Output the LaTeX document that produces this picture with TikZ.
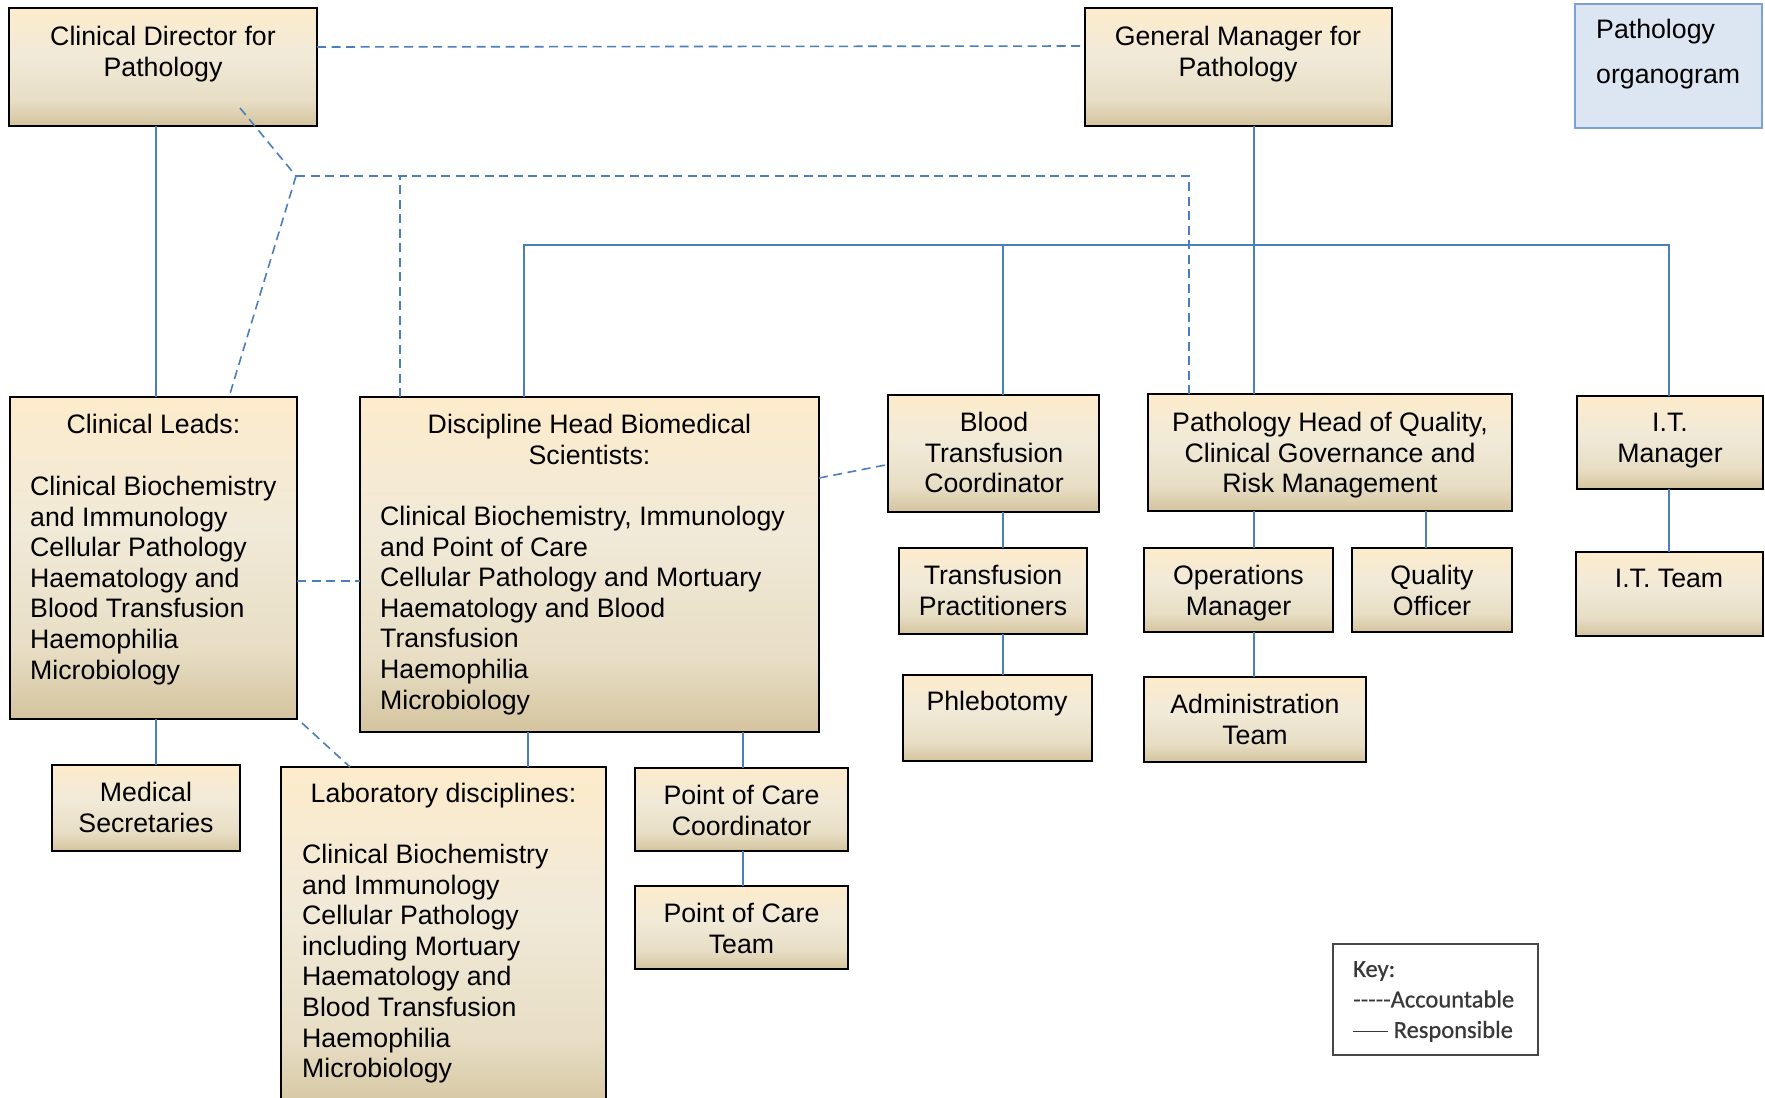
\documentclass[tikz,border=0pt]{standalone}
\usepackage{fontspec}
\setmainfont{Liberation Sans}
\newfontfamily\keyfont[FakeBold=0.6]{Carlito}
\usetikzlibrary{calc}

\definecolor{boxtop}{RGB}{253,235,203}
\definecolor{boxmid}{RGB}{241,234,216}
\definecolor{boxlow}{RGB}{232,222,197}
\definecolor{boxbot}{RGB}{212,196,158}
\definecolor{linkblue}{RGB}{74,126,189}
\definecolor{titlefill}{RGB}{220,230,242}
\definecolor{titledraw}{RGB}{125,160,215}

\pgfdeclareverticalshading{boxgrad}{100bp}{%
  color(0bp)=(boxbot); color(25bp)=(boxbot); color(36bp)=(boxlow);
  color(55bp)=(boxmid); color(75bp)=(boxtop); color(100bp)=(boxtop)}

\tikzset{
  obox/.style={draw=black, line width=1.6pt, shading=boxgrad,
    inner sep=0pt, outer sep=0pt},
  lbl/.style={inner sep=0pt, font=\fontsize{26.7}{30.6}\selectfont,
    align=center, anchor=north},
  lbll/.style={lbl, align=left, anchor=north west},
  acc/.style={draw=linkblue, line width=1.6pt, dash pattern=on 9pt off 5.5pt},
  rsp/.style={draw=linkblue, line width=1.6pt},
}

% \orgbox{name}{left}{top}{right}{bottom}, in pixel units
\newcommand{\orgbox}[5]{%
  \node[obox, minimum width={(#4-#2)*1pt}, minimum height={(#5-#3)*1pt}]
    (#1) at ({(#2+#4)/2},{(#3+#5)/2}) {};}

\begin{document}
\begin{tikzpicture}[x=1pt,y=-1pt]
\useasboundingbox (0,0) rectangle (1765,1098);
\clip (0,0) rectangle (1765,1098);
\fill[white] (0,0) rectangle (1765,1098);

% ---- boxes ----
\orgbox{cd}{9}{8}{317}{126}
\orgbox{gm}{1085}{8}{1392}{126}
\node[draw=titledraw, fill=titlefill, line width=1.5pt, minimum width=187pt,
  minimum height=124pt, inner sep=0pt] (org) at (1668.5,66) {};
\orgbox{cl}{10}{397}{297}{719}
\orgbox{dh}{360}{397}{819}{732}
\orgbox{btc}{888}{395}{1099}{512}
\orgbox{phq}{1148}{394}{1512}{511}
\orgbox{itm}{1577}{396}{1763}{489}
\orgbox{tp}{899}{548}{1087}{634}
\orgbox{om}{1144}{548}{1333}{632}
\orgbox{qo}{1352}{548}{1512}{632}
\orgbox{itt}{1576}{552}{1763}{636}
\orgbox{phl}{903}{675}{1092}{761}
\orgbox{adm}{1144}{677}{1366}{762}
\orgbox{ms}{52}{765}{240}{851}
\orgbox{lab}{281}{767}{606}{1115}
\orgbox{pocc}{635}{768}{848}{851}
\orgbox{poct}{635}{886}{848}{969}

% ---- texts ----
\node[lbl] (tcd) at (163,26) {Clinical Director for\\Pathology};
\node[lbl] (tgm) at (1238,26) {General Manager for\\Pathology};
\node[lbll, font=\fontsize{26.7}{45}\selectfont] (torg) at (1596,19)
  {Pathology\\organogram};
\node[lbl] (tcl) at (153.5,414) {Clinical Leads:};
\node[lbll] (tclb) at (30,476) {Clinical Biochemistry\\and Immunology\\
  Cellular Pathology\\Haematology and\\Blood Transfusion\\Haemophilia\\Microbiology};
\node[lbl] (tdh) at (589.5,414) {Discipline Head Biomedical\\Scientists:};
\node[lbll] (tdhb) at (380,506) {Clinical Biochemistry, Immunology\\
  and Point of Care\\Cellular Pathology and Mortuary\\Haematology and Blood\\
  Transfusion\\Haemophilia\\Microbiology};
\node[lbl] (tbtc) at (994,412) {Blood\\Transfusion\\Coordinator};
\node[lbl] (tphq) at (1330,412) {Pathology Head of Quality,\\
  Clinical Governance and\\Risk Management};
\node[lbl] (titm) at (1670,413) {I.T.\\Manager};
\node[lbl] (ttp) at (993,565) {Transfusion\\Practitioners};
\node[lbl] (tom) at (1238.5,565) {Operations\\Manager};
\node[lbl] (tqo) at (1432,565) {Quality\\Officer};
\node[lbl] (titt) at (1669,569) {I.T. Team};
\node[lbl] (tphl) at (997,691) {Phlebotomy};
\node[lbl] (tadm) at (1255,694) {Administration\\Team};
\node[lbl] (tms) at (146,782) {Medical\\Secretaries};
\node[lbl] (tlab) at (443.5,783) {Laboratory disciplines:};
\node[lbll] (tlabb) at (302,844) {Clinical Biochemistry\\and Immunology\\
  Cellular Pathology\\including Mortuary\\Haematology and\\Blood Transfusion\\
  Haemophilia\\Microbiology};
\node[lbl] (tpocc) at (741.5,785) {Point of Care\\Coordinator};
\node[lbl] (tpoct) at (741.5,903) {Point of Care\\Team};

% ---- key ----
\node[draw=black!72, line width=2.2pt, minimum width=205pt, minimum height=111pt,
  inner sep=0pt] (key) at (1435.5,999.5) {};
\node[inner sep=0pt, anchor=north west, align=left, text=black!78,
  font=\keyfont\fontsize{24.5}{30.5}\selectfont] (tkey) at (1353,961)
  {Key:\\-{}-{}-{}-{}-Accountable\\\rule[0.25em]{35pt}{1.3pt} Responsible};

% ---- accountable (dashed) links ----
\coordinate (jA) at (296,176);
\coordinate (jB) at (1189,176);
\draw[acc] ([yshift=-39pt]cd.north east) -- ([yshift=-38pt]gm.north west);
\draw[acc] ($(cd.south)+(77,-18)$) -- (jA);
\draw[acc] (jA) -- (jB) -- (jB |- phq.north);
\draw[acc] (jA) -- ($(cl.north)+(75.5,0)$);
\draw[acc] ($(dh.north west)+(40,0)$) coordinate (dv) -- (dv |- jA);
\draw[acc] ($(dh.north east)+(0,81)$) -- ($(btc.west)+(0,11)$);
\draw[acc] ($(cl.east)+(0,23)$) coordinate (cx) -- (cx -| dh.west);
\draw[acc] ($(cl.south east)+(5,4)$) -- ($(lab.north west)+(69,0)$);

% ---- responsible (solid) links ----
\coordinate (bL) at (524,245);
\coordinate (bR) at (1669,245);
\draw[rsp] ($(cd.south)+(-7,0)$) coordinate (s1) -- (s1 |- cl.north);
\draw[rsp] ($(gm.south)+(15.5,0)$) coordinate (s2) -- (s2 |- phq.north);
\draw[rsp] (bL |- dh.north) -- (bL) -- (bR) -- (bR |- itm.north);
\draw[rsp] ($(btc.north)+(9.5,0)$) coordinate (s3) -- (s3 |- bL);
\draw[rsp] ($(btc.south)+(9.5,0)$) coordinate (s4) -- (s4 |- tp.north);
\draw[rsp] ($(tp.south)+(10,0)$) coordinate (s5) -- (s5 |- phl.north);
\draw[rsp] ($(om.north)+(15.5,0)$) coordinate (s6) -- (s6 |- phq.south);
\draw[rsp] ($(qo.north)+(-6,0)$) coordinate (s7) -- (s7 |- phq.south);
\draw[rsp] ($(adm.north)+(-1,0)$) coordinate (s8) -- (s8 |- om.south);
\draw[rsp] (itm.south -| bR) -- (itt.north -| bR);
\draw[rsp] ($(ms.north)+(10,0)$) coordinate (s9) -- (s9 |- cl.south);
\draw[rsp] ($(lab.north)+(84.5,0)$) coordinate (s10) -- (s10 |- dh.south);
\draw[rsp] ($(pocc.north)+(1.5,0)$) coordinate (s11) -- (s11 |- dh.south);
\draw[rsp] ($(pocc.south)+(1.5,0)$) coordinate (s12) -- (s12 |- poct.north);
\end{tikzpicture}
\end{document}
